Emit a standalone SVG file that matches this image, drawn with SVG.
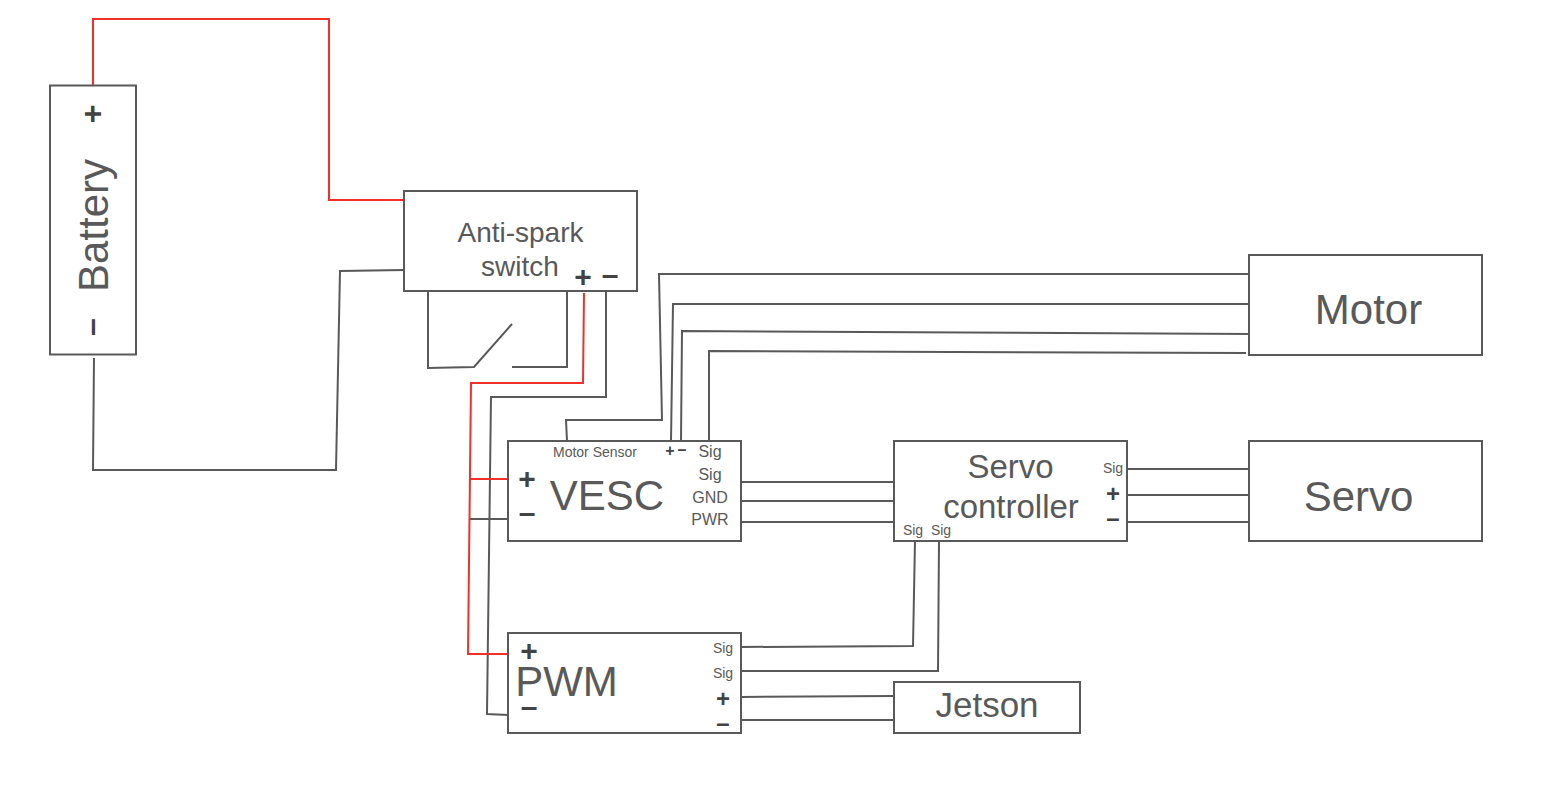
<svg xmlns="http://www.w3.org/2000/svg" width="1558" height="802" viewBox="0 0 1558 802">
<style>
text{font-family:"Liberation Sans",Arial,sans-serif;fill:#595959;text-anchor:middle}
.box{fill:#fff;stroke:#595959;stroke-width:2}
.w{fill:none;stroke:#595959;stroke-width:2}
.r{fill:none;stroke:#f0312a;stroke-width:2}
.s{font-weight:bold;fill:#434343}
.t42{font-size:42px}
.t16{font-size:16px}
.t14{font-size:14px}
</style>
<rect width="1558" height="802" fill="#fff"/>
<g id="connectors">
<path class="w" d="M94 358L93 470L336 470L340 271L404 270"/>
<path class="w" d="M428 291V368L474 367L512 324"/>
<path class="w" d="M512 367H567V292"/>
<path class="w" d="M606 288V397H491L487 714L508 715"/>
<path class="w" d="M469 519H508"/>
<path class="w" d="M567 441L566 420H662L659 274H1250"/>
<path class="w" d="M671 441L673 304H1249"/>
<path class="w" d="M681 441L682 331L1252 334"/>
<path class="w" d="M709 441V351L1246 353"/>
<path class="w" d="M741 482H894M741 501H894M741 522H894"/>
<path class="w" d="M1127 469H1250M1127 495H1250M1127 522H1250"/>
<path class="w" d="M915 541L913 646L741 647"/>
<path class="w" d="M939 541L938 671H741"/>
<path class="w" d="M741 697L894 696M741 720H894"/>
<path class="r" d="M93 86V19H329V200H407"/>
<path class="r" d="M584 293L583 383H471L468 654H508"/>
<path class="r" d="M470 479H508"/>
</g>
<g id="battery">
<rect class="box" x="50" y="85.500" width="86" height="269"/>
<text class="t42" transform="translate(108 225.500) rotate(-90)">Battery</text>
<text class="s" font-size="32" transform="translate(103 114) rotate(-90)">+</text>
<text class="s" font-size="32" transform="translate(102 327) rotate(-90)">–</text>
</g>
<g id="anti-spark-switch">
<rect class="box" x="404" y="191" width="233" height="100"/>
<text font-size="28" x="520.500" y="242">Anti-spark</text>
<text font-size="28" x="520" y="276">switch</text>
<text class="s" font-size="30" x="583" y="287">+</text>
<text class="s" font-size="30" x="610" y="285">–</text>
</g>
<g id="motor">
<rect class="box" x="1249" y="255" width="233" height="100"/>
<text class="t42" x="1368.500" y="324">Motor</text>
</g>
<g id="servo">
<rect class="box" x="1249" y="441" width="233" height="100"/>
<text class="t42" x="1358.500" y="511">Servo</text>
</g>
<g id="vesc">
<rect class="box" x="508" y="441" width="233" height="100"/>
<text class="t42" x="607" y="510">VESC</text>
<text class="t14" x="595" y="457">Motor Sensor</text>
<text class="s" font-size="16" x="670" y="456">+</text>
<text class="s" font-size="16" x="682" y="455">–</text>
<text class="t16" x="710" y="457">Sig</text>
<text class="t16" x="710" y="480">Sig</text>
<text class="t16" x="710" y="503">GND</text>
<text class="t16" x="710" y="525">PWR</text>
<text class="s" font-size="30" x="527" y="489">+</text>
<text class="s" font-size="30" x="527" y="523">–</text>
</g>
<g id="servo-controller">
<rect class="box" x="894" y="441" width="233" height="100"/>
<text font-size="33" x="1010.500" y="478">Servo</text>
<text font-size="33" x="1011" y="518">controller</text>
<text class="t14" x="1113" y="473">Sig</text>
<text class="t14" x="913" y="535">Sig</text>
<text class="t14" x="941" y="535">Sig</text>
<text class="s" font-size="24" x="1113" y="502">+</text>
<text class="s" font-size="24" x="1113" y="526">–</text>
</g>
<g id="pwm">
<rect class="box" x="508" y="633" width="233" height="100"/>
<text class="t42" x="566.500" y="696">PWM</text>
<text class="s" font-size="30" x="529" y="661">+</text>
<text class="s" font-size="30" x="529" y="717">–</text>
<text class="t14" x="723" y="653">Sig</text>
<text class="t14" x="723" y="678">Sig</text>
<text class="s" font-size="24" x="723" y="707">+</text>
<text class="s" font-size="24" x="723" y="731">–</text>
</g>
<g id="jetson">
<rect class="box" x="894" y="682" width="186" height="51"/>
<text font-size="35" x="987" y="717">Jetson</text>
</g>
</svg>
